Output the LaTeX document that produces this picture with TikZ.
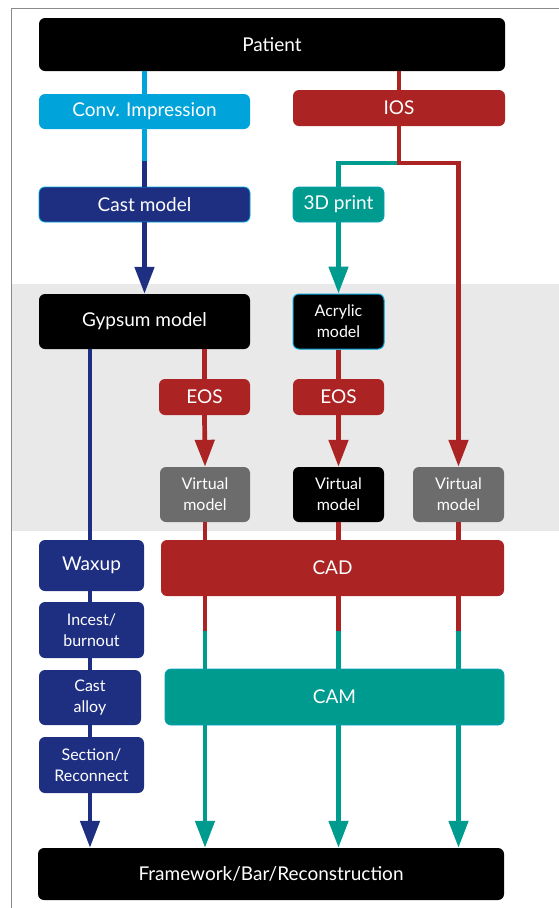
\documentclass[tikz,border=0pt]{standalone}
\usepackage{fontspec}
\setmainfont{Lato}
\usetikzlibrary{arrows.meta,calc}
\definecolor{ccyan}{HTML}{00A3DA}
\definecolor{cred}{HTML}{AC2324}
\definecolor{cblue}{HTML}{1E2F82}
\definecolor{cteal}{HTML}{009B8F}
\definecolor{cgray}{HTML}{6B6C6B}
\definecolor{cband}{HTML}{E8E9E8}
\definecolor{cframe}{HTML}{8A8A8A}
\tikzset{
  box/.style={rounded corners=6pt, text=white, align=center, inner sep=0pt, font=\fontsize{19}{20}\selectfont},
  sbox/.style={box, font=\fontsize{16}{21}\selectfont},
  conn/.style={line width=4.7pt},
  arr/.style={conn, -{Triangle[width=19pt,length=27pt]}},
}
\newcommand{\bx}[7]{% name, x1,y1,x2,y2, style, text
  \node[#6, minimum width={(#4-#2)*1pt}, minimum height={(#5-#3)*1pt}] (#1) at ({(#2+#4)/2},{(#3+#5)/2}) {#7};}
\begin{document}
\begin{tikzpicture}[x=1pt,y=-1pt]
\useasboundingbox (0,0) rectangle (559,908);
\fill[cband] (11,284) rectangle (559,531);
\draw[cframe, line width=1pt] (11,908) -- (11,8) -- (559,8);
% nodes
\bx{patient}{39}{18}{505}{71}{box, fill=black}{Patient}
\bx{conv}{39}{94}{250}{129}{box, fill=ccyan}{Conv. Impression}
\bx{ios}{293}{90}{505}{126}{box, fill=cred}{IOS}
\bx{cast}{39}{187}{250}{222}{box, fill=cblue, draw=ccyan, line width=0.8pt}{Cast model}
\bx{print}{293}{187}{384}{222}{box, fill=cteal, draw=ccyan!60!cteal, line width=0.8pt}{3D print}
\bx{gyps}{39}{294}{250}{349}{box, fill=black}{Gypsum model}
\bx{acryl}{293}{294}{384}{349}{sbox, fill=black, draw=ccyan, line width=1pt}{Acrylic\\model}
\bx{eosL}{159}{379}{250}{415}{box, fill=cred}{EOS}
\bx{eosM}{293}{379}{384}{415}{box, fill=cred}{EOS}
\bx{vL}{160}{467}{250}{522}{sbox, fill=cgray}{Virtual\\model}
\bx{vM}{293}{467}{384}{522}{sbox, fill=black}{Virtual\\model}
\bx{vR}{413}{467}{504}{522}{sbox, fill=cgray}{Virtual\\model}
\bx{wax}{39}{540}{144}{591}{box, fill=cblue}{Waxup}
\bx{inc}{39}{602}{144}{658}{sbox, fill=cblue}{Incest/\\burnout}
\bx{alloy}{39}{670}{141}{725}{sbox, fill=cblue}{Cast\\alloy}
\bx{sect}{39}{737}{144}{793}{sbox, fill=cblue}{Section/\\Reconnect}
\bx{cad}{161}{540}{504}{596}{box, fill=cred}{CAD}
\bx{cam}{165}{669}{504}{725}{box, fill=cteal, draw=ccyan!70!cteal, line width=0.8pt}{CAM}
\bx{frame}{38}{848}{504}{900}{box, fill=black}{Framework/Bar/Reconstruction}
% coordinates
\coordinate (convmid) at (conv.south |- 0,161);
\coordinate (split) at (ios.south |- 0,163);
\coordinate (cL) at (vL.south |- 0,631);
\coordinate (cM) at (vM.south |- 0,631);
\coordinate (cR) at (vR.south |- 0,631);
% connectors
\draw[conn, ccyan] (conv.north |- patient.south) -- (conv.north);
\draw[conn, cred] (ios.north |- patient.south) -- (ios.north);
\draw[conn, ccyan] (conv.south) -- (convmid);
\draw[conn, cblue] (convmid) -- (cast.north);
\draw[conn, cred] (ios.south) -- (split);
\draw[conn, cteal] ([xshift=2.35pt]split) -| (print.north);
\draw[arr, cred] ([xshift=-2.35pt]split) -| (vR.north);
\draw[arr, cblue] (cast.south) -- (gyps.north);
\draw[arr, cteal] (print.south) -- (acryl.north);
\draw[conn, cred] (eosL.north |- gyps.south) -- (eosL.north);
\draw[conn, cred] (acryl.south) -- (eosM.north);
\draw[arr, cred] (eosL.south) -- (vL.north);
\draw[arr, cred] (eosM.south) -- (vM.north);
\draw[conn, cblue] (alloy.north |- gyps.south) -- (alloy.north |- wax.north);
\draw[conn, cblue] (alloy.north |- wax.south) -- (alloy.north |- inc.north);
\draw[conn, cblue] (alloy.north |- inc.south) -- (alloy.north);
\draw[conn, cblue] (alloy.south) -- (alloy.south |- sect.north);
\draw[arr, cblue] (alloy.south |- sect.south) -- (alloy.south |- frame.north);
\foreach \v/\c in {vL/cL, vM/cM, vR/cR}{
  \draw[conn, cred] (\v.south) -- (\v.south |- cad.north);
  \draw[conn, cred] (\v.south |- cad.south) -- (\c);
  \draw[conn, cteal] (\c) -- (\v.south |- cam.north);
  \draw[arr, cteal] (\v.south |- cam.south) -- (\v.south |- frame.north);
}
\end{tikzpicture}
\end{document}
